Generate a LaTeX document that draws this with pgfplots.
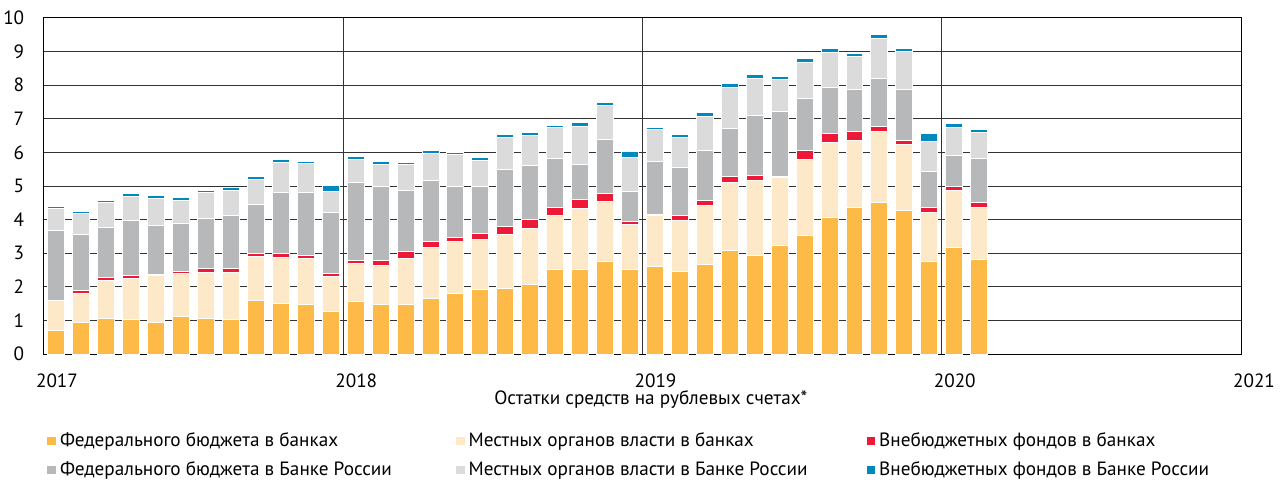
\documentclass[border=0pt]{standalone}
\usepackage{fontspec}
\setmainfont{PT Sans}
\usepackage{pgfplots}
\usepackage{pgfplotstable}
\pgfplotsset{compat=1.18}
\definecolor{cFB}{RGB}{254,186,70}
\definecolor{cLB}{RGB}{253,232,199}
\definecolor{cEB}{RGB}{238,25,55}
\definecolor{cFC}{RGB}{183,184,186}
\definecolor{cLC}{RGB}{219,219,219}
\definecolor{cEC}{RGB}{0,137,191}
\pgfplotstableread{
x a b c d e f
0.5 0.70 0.89 0.01 2.08 0.66 0.06
1.5 0.94 0.87 0.08 1.66 0.62 0.08
2.5 1.06 1.14 0.08 1.49 0.73 0.08
3.5 1.03 1.23 0.08 1.62 0.74 0.09
4.5 0.95 1.39 0.04 1.45 0.81 0.08
5.5 1.11 1.29 0.06 1.43 0.69 0.07
6.5 1.05 1.37 0.13 1.49 0.78 0.06
7.5 1.03 1.39 0.13 1.58 0.75 0.08
8.5 1.59 1.31 0.10 1.46 0.74 0.07
9.5 1.49 1.37 0.12 1.84 0.88 0.09
10.5 1.48 1.35 0.11 1.87 0.85 0.08
11.5 1.27 1.05 0.08 1.81 0.64 0.16
12.5 1.56 1.14 0.08 2.32 0.70 0.08
13.5 1.48 1.14 0.16 2.21 0.64 0.09
14.5 1.48 1.37 0.20 1.82 0.76 0.08
15.5 1.65 1.52 0.18 1.81 0.80 0.09
16.5 1.81 1.55 0.11 1.52 0.94 0.08
17.5 1.93 1.49 0.17 1.40 0.78 0.08
18.5 1.96 1.61 0.22 1.69 0.96 0.09
19.5 2.08 1.66 0.25 1.63 0.88 0.09
20.5 2.52 1.59 0.24 1.47 0.91 0.08
21.5 2.52 1.82 0.25 1.06 1.12 0.12
22.5 2.75 1.79 0.25 1.59 1.03 0.09
23.5 2.52 1.32 0.11 0.89 1.00 0.19
24.5 2.60 1.53 0.02 1.59 0.93 0.08
25.5 2.46 1.51 0.14 1.45 0.87 0.09
26.5 2.67 1.75 0.14 1.49 1.03 0.10
27.5 3.08 2.03 0.16 1.45 1.22 0.11
28.5 2.92 2.24 0.15 1.80 1.10 0.10
29.5 3.24 2.02 0.01 1.96 0.93 0.09
30.5 3.54 2.24 0.27 1.54 1.10 0.10
31.5 4.07 2.23 0.25 1.38 1.03 0.12
32.5 4.37 1.99 0.26 1.26 0.97 0.10
33.5 4.52 2.09 0.15 1.45 1.18 0.12
34.5 4.28 1.96 0.12 1.52 1.11 0.11
35.5 2.75 1.47 0.14 1.08 0.87 0.26
36.5 3.18 1.68 0.14 0.91 0.82 0.14
37.5 2.80 1.57 0.14 1.30 0.79 0.09
}\datatable
\begin{document}
\fontsize{9.6}{11.5}\selectfont
\begin{tikzpicture}
\useasboundingbox (-22pt,-64pt) rectangle (619.5pt,177pt);
\begin{axis}[
  at={(0,0)}, anchor=south west,
  scale only axis, width=598.5pt, height=168pt,
  xmin=0, xmax=48, ymin=0, ymax=10,
  xtick={0,12,24,36,48},
  xticklabels={2017,2018,2019,2020,2021},
  ytick={0,1,...,10},
  major tick length=0pt,
  /pgf/number format/assume math mode=true,
  xticklabel style={anchor=center, yshift=-13.5pt, xshift=6.5pt},
  yticklabel style={anchor=east, xshift=-6.5pt},
  xmajorgrids, ymajorgrids,
  major grid style={black!80, line width=0.5pt},
  axis line style={black, line width=0.5pt},
  xlabel={Остатки средств на рублевых счетах*},
  xlabel style={at={(axis description cs:0.507,0)}, anchor=center, yshift=-23pt},
  ybar stacked, bar shift=0pt, bar width=0.68,
  every axis plot/.append style={draw=white, line width=0.5pt},
  legend columns=3,
  legend cell align=left,
  legend image code/.code={\fill[#1] (0pt,-2.4pt) rectangle (4.8pt,2.4pt);},
  legend style={draw=none, fill=none, at={(axis description cs:0,0)}, anchor=north west,
    xshift=1pt, yshift=-37.5pt, inner sep=0pt, row sep=3.2pt,
    nodes={inner sep=1.5pt},
    /tikz/every even column/.append style={column sep=0pt}},
]
\addplot[fill=cFB] table[x=x,y=a]{\datatable};
\addlegendentry{\makebox[196pt][l]{Федерального бюджета в банках}}
\addplot[fill=cLB] table[x=x,y=b]{\datatable};
\addlegendentry{\makebox[197pt][l]{Местных органов власти в банках}}
\addplot[fill=cEB] table[x=x,y=c]{\datatable};
\addlegendentry{Внебюджетных фондов в банках}
\addplot[fill=cFC] table[x=x,y=d]{\datatable};
\addlegendentry{\makebox[196pt][l]{Федерального бюджета в Банке России}}
\addplot[fill=cLC] table[x=x,y=e]{\datatable};
\addlegendentry{\makebox[197pt][l]{Местных органов власти в Банке России}}
\addplot[fill=cEC] table[x=x,y=f]{\datatable};
\addlegendentry{Внебюджетных фондов в Банке России}
\end{axis}
\end{tikzpicture}
\end{document}
